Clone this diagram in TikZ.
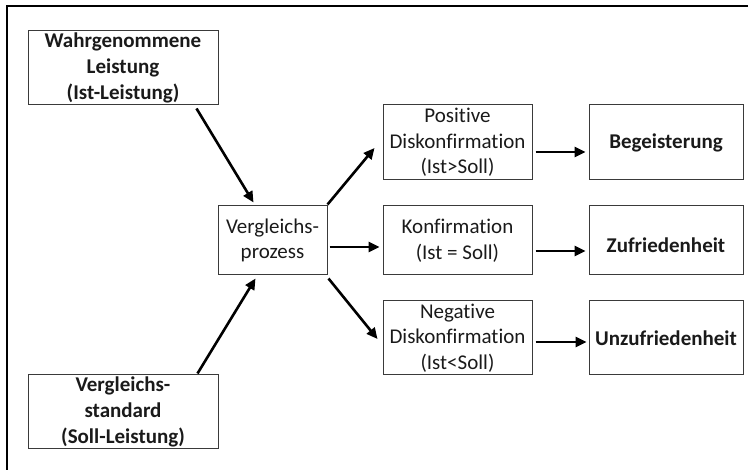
\documentclass[tikz,border=0pt]{standalone}
\usepackage{fontspec}
\setmainfont{Carlito}[Ligatures=NoCommon]
\usetikzlibrary{arrows.meta}
\definecolor{boxline}{HTML}{3A3A3A}
\definecolor{txt}{HTML}{1A1A1A}
\begin{document}
\begin{tikzpicture}[x=1pt,y=-1pt,
  box/.style={draw=boxline,line width=1pt,rectangle,inner sep=0pt,align=center,
    text=txt,font=\fontsize{21}{25.6}\selectfont},
  boldbox/.style={box,font=\fontsize{21}{25.6}\selectfont\bfseries},
  arr/.style={draw=black,line width=2.6pt,-{Triangle[length=11pt,width=10pt]}},
  frame/.style={draw=black,line width=1.5pt}]
\useasboundingbox (0,0) rectangle (753,470);
% frame (top and left edges only)
\coordinate (ftr) at (748,6);
\coordinate (ftl) at (7,6);
\coordinate (fbl) at (7,470);
\draw[frame] (ftr) -- (ftl) -- (fbl);
% nodes
\node[boldbox,minimum width=190pt,minimum height=74pt] (w) at (123,68)
  {Wahrgenommene\\Leistung\\(Ist-Leistung)};
\node[boldbox,minimum width=190pt,minimum height=74pt] (vs) at (123,412)
  {Vergleichs-\\standard\\(Soll-Leistung)};
\node[box,minimum width=109pt,minimum height=69pt] (vp) at (272.5,240.5)
  {Vergleichs-\\prozess};
\node[box,minimum width=149pt,minimum height=75pt] (pos) at (457.5,142.5)
  {Positive\\Diskonfirmation\\(Ist>Soll)};
\node[box,minimum width=149pt,minimum height=69pt] (kon) at (457.5,240.5)
  {Konfirmation\\(Ist = Soll)};
\node[box,minimum width=149pt,minimum height=74pt] (neg) at (457.5,338)
  {Negative\\Diskonfirmation\\(Ist<Soll)};
\node[boldbox,minimum width=154pt,minimum height=75pt] (beg) at (666,142.5)
  {Begeisterung};
\node[boldbox,minimum width=154pt,minimum height=69pt,text depth=0pt] (zuf) at (666,240.5)
  {\raisebox{-9pt}{Zufriedenheit}};
\node[boldbox,minimum width=154pt,minimum height=74pt] (unz) at (666,338)
  {Unzufriedenheit};
% arrows
\draw[arr] ([xshift=169pt,yshift=-3pt]w.south west) -- ([xshift=36pt,yshift=3pt]vp.north west);
\draw[arr] ([xshift=170pt,yshift=1pt]vs.north west) -- ([xshift=38pt,yshift=-3pt]vp.south west);
\draw[arr] ([yshift=1pt]vp.north east) -- ([xshift=-8pt,yshift=-5.5pt]pos.west);
\draw[arr] ([xshift=1pt,yshift=-3pt]vp.south east) -- ([xshift=-5pt,yshift=-1pt]neg.west);
\draw[arr] ([xshift=2pt,yshift=-6.5pt]vp.east) -- ([xshift=-3pt,yshift=-6.5pt]kon.west);
\draw[arr] ([xshift=3pt,yshift=-9.5pt]pos.east) -- ([xshift=-3pt,yshift=-9.5pt]beg.west);
\draw[arr] ([xshift=3pt,yshift=-10.5pt]kon.east) -- ([xshift=-3pt,yshift=-10.5pt]zuf.west);
\draw[arr] ([xshift=3pt,yshift=-4pt]neg.east) -- ([xshift=-2pt,yshift=-4pt]unz.west);
\end{tikzpicture}
\end{document}
